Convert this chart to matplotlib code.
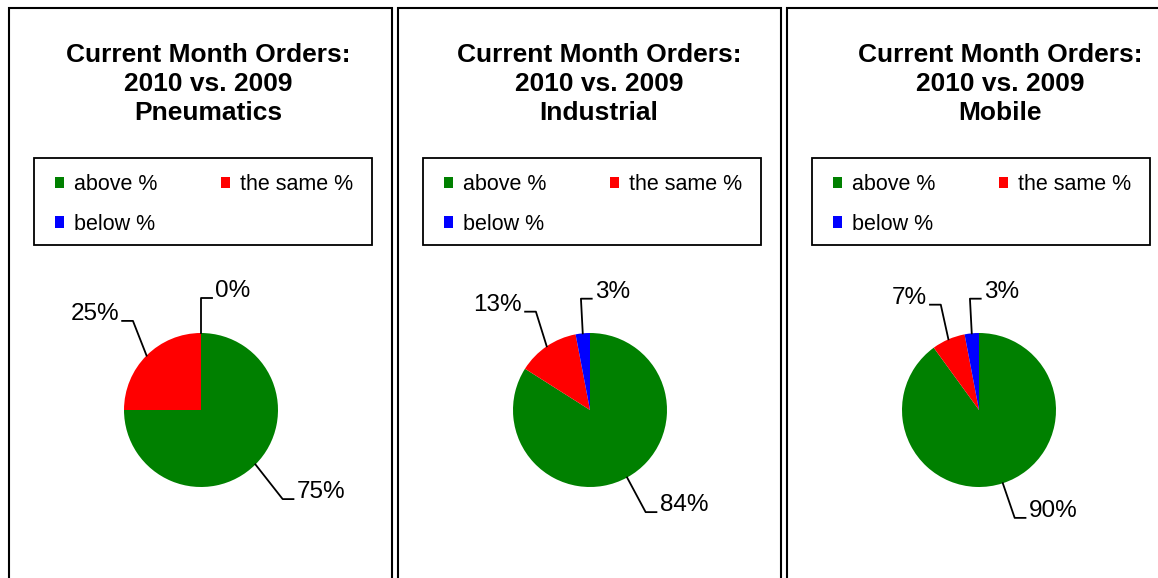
import numpy as np
import matplotlib.pyplot as plt
from matplotlib.patches import Rectangle

plt.rcParams['font.family'] = ['Liberation Sans', 'DejaVu Sans']

# chart data
segments = ["Pneumatics", "Industrial", "Mobile"]
categories = ["above %", "the same %", "below %"]
above = [75, 84, 90]
same = [25, 13, 7]
below = [0, 3, 3]
colors = ["#008000", "#FF0000", "#0000FF"]

W, H, DPI = 1158, 578, 100
fig = plt.figure(figsize=(W / DPI, H / DPI), dpi=DPI)

R_PX = 77          # pie radius in pixels
LIM = 1.9          # axes half-range in pie-radius units
panel_step = 389
title_x = [208, 599, 1000]

for i, seg in enumerate(segments):
    left = 9 + panel_step * i
    cx = left + 192
    cy = 410

    # panel border (open at the bottom, like the cropped original)
    fig.patches.append(Rectangle((left / W, -0.1), 383 / W, (H - 8) / H + 0.1,
                                 transform=fig.transFigure, fill=False,
                                 edgecolor="black", linewidth=1.5))

    fig.text(title_x[i] / W, 1 - 84 / H, f"Current Month Orders:\n2010 vs. 2009\n{seg}",
             ha="center", va="center", fontsize=19, fontweight="bold",
             linespacing=1.26)

    h = LIM * R_PX
    ax = fig.add_axes([(cx - h) / W, (H - cy - h) / H, 2 * h / W, 2 * h / H])
    vals = [above[i], same[i], below[i]]
    wedges, _ = ax.pie(vals, colors=colors, startangle=90, counterclock=False,
                       radius=1, wedgeprops=dict(linewidth=0))
    ax.set_xlim(-LIM, LIM)
    ax.set_ylim(-LIM, LIM)
    ax.set_aspect("equal")
    ax.axis("off")

    # leader lines + percentage labels
    total = sum(vals)
    start = 0
    for v in vals:
        mid = np.deg2rad(90 - 360 * (start + v / 2) / total)
        start += v
        c, s = np.cos(mid), np.sin(mid)
        side = 1 if c > -0.15 else -1
        p0 = np.array([c, s])
        p1 = np.array([(1.25 if s > 0 else 1.5) * c, s + np.sign(s) * 0.45])
        p2 = p1 + np.array([side * 0.14, 0])
        ax.plot([p0[0], p1[0], p2[0]], [p0[1], p1[1], p2[1]], color="black",
                linewidth=1.3, clip_on=False)
        ax.text(p2[0] + side * 0.04, p2[1] + 0.09, f"{round(100 * v / total)}%",
                ha="left" if side > 0 else "right", va="center", fontsize=17.5,
                clip_on=False)

    # legend box
    fig.patches.append(Rectangle(((left + 25) / W, 1 - 245 / H), 338 / W, 87 / H,
                                 transform=fig.transFigure, fill=False,
                                 edgecolor="black", linewidth=1.3))
    # legend: order so that ncol=2 gives rows (above, the same) / (below)
    order = [0, 2, 1]
    fig.legend([wedges[k] for k in order], [categories[k] for k in order],
               ncol=2, mode="expand", loc="center left",
               bbox_to_anchor=((left + 46) / W, 1 - 248 / H, 298 / W, 87 / H),
               borderaxespad=0, borderpad=0, fontsize=15.5,
               handlelength=0.42, handleheight=0.42, handletextpad=0.45,
               labelspacing=0.85, frameon=False)

fig.savefig("out.png", dpi=DPI)
